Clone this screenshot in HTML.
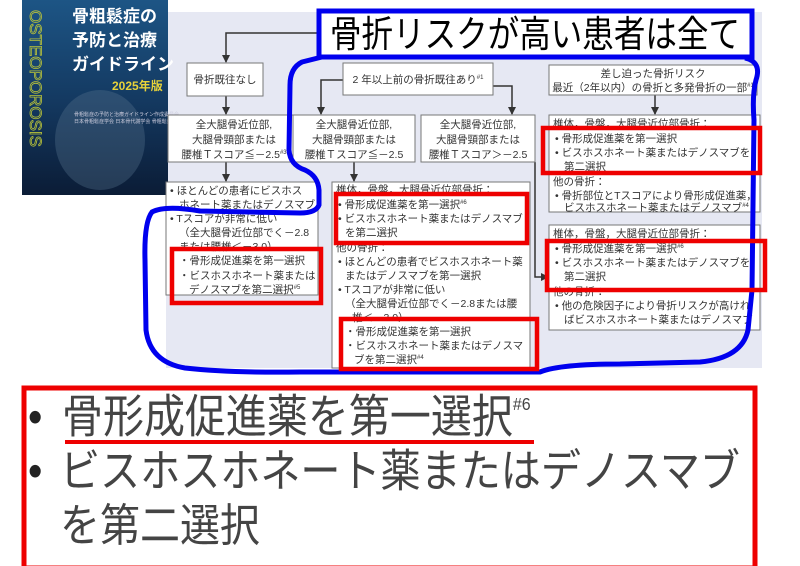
<!DOCTYPE html>
<html><head><meta charset="utf-8"><style>
html,body{margin:0;padding:0;background:#fff;}
svg{display:block;}
text{font-family:"Liberation Sans","Noto Sans CJK JP",sans-serif;fill:#333;}
</style></head><body>
<svg width="800" height="566" viewBox="0 0 800 566" xmlns="http://www.w3.org/2000/svg">
<defs>
<linearGradient id="bk" x1="0" y1="0" x2="0" y2="1">
<stop offset="0" stop-color="#1d5585"/><stop offset="0.5" stop-color="#143a62"/><stop offset="1" stop-color="#0b1c36"/>
</linearGradient>
<marker id="ar" markerWidth="8" markerHeight="8" refX="7" refY="4" orient="auto" markerUnits="userSpaceOnUse">
<path d="M0,0 L8,4 L0,8 z" fill="#333"/></marker>
</defs>
<rect x="166" y="12" width="596" height="356" fill="#e6e8f3"/>
<rect x="22" y="0" width="146" height="195" fill="url(#bk)"/>
<ellipse cx="100" cy="140" rx="45" ry="50" fill="#5a7590" opacity="0.35"/>
<text x="0" y="0" transform="translate(30,10) rotate(90)" style="font-size:17px;fill:none;stroke:#b8c23a;stroke-width:0.8" >OSTEOPOROSIS</text>
<text x="72" y="22" style="font-size:17px;font-weight:bold;fill:#fff">骨粗鬆症の</text>
<text x="72" y="46" style="font-size:17px;font-weight:bold;fill:#fff">予防と治療</text>
<text x="72" y="70" style="font-size:17px;font-weight:bold;fill:#fff">ガイドライン</text>
<text x="112" y="90" style="font-size:12px;font-weight:bold;fill:#e8d23a">2025年版</text>
<text x="74" y="116" style="font-size:5px;fill:#ccd">骨粗鬆症の予防と治療ガイドライン作成委員会</text>
<text x="74" y="123" style="font-size:5px;fill:#ccd">日本骨粗鬆症学会 日本骨代謝学会 骨粗鬆症財団</text>

<g stroke="#333" stroke-width="1.5" fill="none">
<polyline points="320,33 226,33 226,62" marker-end="url(#ar)"/>
<line x1="226" y1="96" x2="226" y2="114" marker-end="url(#ar)"/>
<line x1="226" y1="162" x2="226" y2="181" marker-end="url(#ar)"/>
<polyline points="343,80 321,80 321,114" marker-end="url(#ar)"/>
<polyline points="493,86 512,86 512,114" marker-end="url(#ar)"/>
<line x1="354" y1="162" x2="354" y2="181" marker-end="url(#ar)"/>
<polyline points="535,162 535,277 548,277" marker-end="url(#ar)"/>
<line x1="655" y1="95" x2="655" y2="114" marker-end="url(#ar)"/>
</g>

<g fill="#fff" stroke="#777" stroke-width="1">
<rect x="187" y="63" width="76" height="33"/>
<rect x="343" y="63" width="150" height="32"/>
<rect x="549" y="65" width="208" height="30"/>
<rect x="168" y="115" width="132" height="47"/>
<rect x="293" y="115" width="122" height="47"/>
<rect x="421" y="115" width="114" height="47"/>
<rect x="166" y="182" width="152" height="113"/>
<rect x="332" y="182" width="198" height="186"/>
<rect x="549" y="115" width="211" height="97"/>
<rect x="549" y="225" width="211" height="105"/>
</g>

<g style="font-size:10.5px">
<text x="225" y="83" text-anchor="middle">骨折既往なし</text>
<text x="418" y="83" text-anchor="middle">2 年以上前の骨折既往あり<tspan style="font-size:6px" dy="-4">#1</tspan></text>
<text x="653" y="77" text-anchor="middle">差し迫った骨折リスク</text>
<text x="653" y="91" text-anchor="middle">最近（2年以内）の骨折と多発骨折の一部<tspan style="font-size:6px" dy="-4">#1</tspan></text>

<text x="234" y="128" text-anchor="middle">全大腿骨近位部,</text>
<text x="234" y="143" text-anchor="middle">大腿骨頸部または</text>
<text x="234" y="158" text-anchor="middle">腰椎Ｔスコア≦－2.5<tspan style="font-size:6px" dy="-4">#3</tspan></text>
<text x="354" y="128" text-anchor="middle">全大腿骨近位部,</text>
<text x="354" y="143" text-anchor="middle">大腿骨頸部または</text>
<text x="354" y="158" text-anchor="middle">腰椎Ｔスコア≦－2.5</text>
<text x="478" y="128" text-anchor="middle">全大腿骨近位部,</text>
<text x="478" y="143" text-anchor="middle">大腿骨頸部または</text>
<text x="478" y="158" text-anchor="middle">腰椎Ｔスコア＞－2.5</text>

<text x="170" y="194">• ほとんどの患者にビスホス</text>
<text x="179" y="208">ホネート薬またはデノスマブ</text>
<text x="170" y="222">• Tスコアが非常に低い</text>
<text x="179" y="236">（全大腿骨近位部でく－2.8</text>
<text x="179" y="250">または腰椎＜－3.0）</text>
<text x="179" y="264">・骨形成促進薬を第一選択</text>
<text x="179" y="279">・ビスホスホネート薬または</text>
<text x="189" y="293">デノスマブを第二選択<tspan style="font-size:6px" dy="-4">#5</tspan></text>

<text x="336" y="193">椎体，骨盤，大腿骨近位部骨折：</text>
<text x="338" y="208">• 骨形成促進薬を第一選択<tspan style="font-size:6px" dy="-4">#6</tspan></text>
<text x="338" y="222">• ビスホスホネート薬またはデノスマブ</text>
<text x="345" y="236">を第二選択</text>
<text x="336" y="251">他の骨折：</text>
<text x="338" y="265">• ほとんどの患者でビスホスホネート薬</text>
<text x="345" y="279">またはデノスマブを第一選択</text>
<text x="338" y="293">• Tスコアが非常に低い</text>
<text x="345" y="307">（全大腿骨近位部でく－2.8または腰</text>
<text x="352" y="321">椎＜－3.0）</text>
<text x="345" y="335">・骨形成促進薬を第一選択</text>
<text x="345" y="349">・ビスホスホネート薬またはデノスマ</text>
<text x="354" y="363">ブを第二選択<tspan style="font-size:6px" dy="-4">#4</tspan></text>

<text x="553" y="127">椎体，骨盤，大腿骨近位部骨折：</text>
<text x="555" y="142">• 骨形成促進薬を第一選択</text>
<text x="555" y="156">• ビスホスホネート薬またはデノスマブを</text>
<text x="564" y="170">第二選択</text>
<text x="553" y="185">他の骨折：</text>
<text x="555" y="199">• 骨折部位とTスコアにより骨形成促進薬，</text>
<text x="564" y="211">ビスホスホネート薬またはデノスマブ<tspan style="font-size:6px" dy="-4">#4</tspan></text>

<text x="553" y="237">椎体，骨盤，大腿骨近位部骨折：</text>
<text x="555" y="252">• 骨形成促進薬を第一選択<tspan style="font-size:6px" dy="-4">#6</tspan></text>
<text x="555" y="266">• ビスホスホネート薬またはデノスマブを</text>
<text x="564" y="280">第二選択</text>
<text x="553" y="295">他の骨折：</text>
<text x="555" y="309">• 他の危険因子により骨折リスクが高けれ</text>
<text x="564" y="323">ばビスホスホネート薬またはデノスマブ</text>
</g>

<path d="M322,57 L302,62 Q290,68 290,85 L289,150 Q290,165 305,170 Q318,176 319,190 L319,205 Q316,213 300,213 L200,211 Q165,205 152,212 Q144,222 145,260 L146,330 Q150,362 185,368 Q230,373 300,372 L540,372 Q560,364 620,364 L700,362 Q742,358 748,330 L752,290 L754,120 Q752,95 756,80 Q762,62 745,58"
 fill="none" stroke="#0000ee" stroke-width="5" stroke-linejoin="round"/>

<rect x="319" y="11" width="433" height="46" fill="#fff" stroke="#0000ee" stroke-width="5"/>
<text x="330" y="47" textLength="410" lengthAdjust="spacingAndGlyphs" transform="matrix(1,0,0,1.2,0,-9.4)" style="font-size:31px;fill:#000">骨折リスクが高い患者は全て</text>

<g fill="none" stroke="#ee0000" stroke-width="4.5">
<rect x="543" y="128" width="217" height="45"/>
<rect x="336" y="194" width="191" height="49"/>
<rect x="172" y="249" width="149" height="54"/>
<rect x="341" y="319" width="196" height="50"/>
<rect x="547" y="241" width="218" height="49"/>
</g>

<rect x="24" y="388" width="731" height="180" fill="#fff" stroke="#ee0000" stroke-width="5"/>
<g transform="matrix(1,0,0,1.12,0,-58)">
<text x="28" y="438" style="font-size:41px;fill:#222">•</text>
<text x="62" y="438" style="font-size:41px;fill:#444">骨形成促進薬を第一選択<tspan style="font-size:16px" dy="-20">#6</tspan></text>
<text x="28" y="486" style="font-size:41px;fill:#222">•</text>
<text x="60" y="486" textLength="680" lengthAdjust="spacingAndGlyphs" style="font-size:40px;fill:#444">ビスホスホネート薬またはデノスマブ</text>
<text x="60" y="535" style="font-size:40px;fill:#444">を第二選択</text>
</g>
<rect x="65" y="440" width="469" height="4" fill="#ee0000"/>
</svg>
</body></html>
